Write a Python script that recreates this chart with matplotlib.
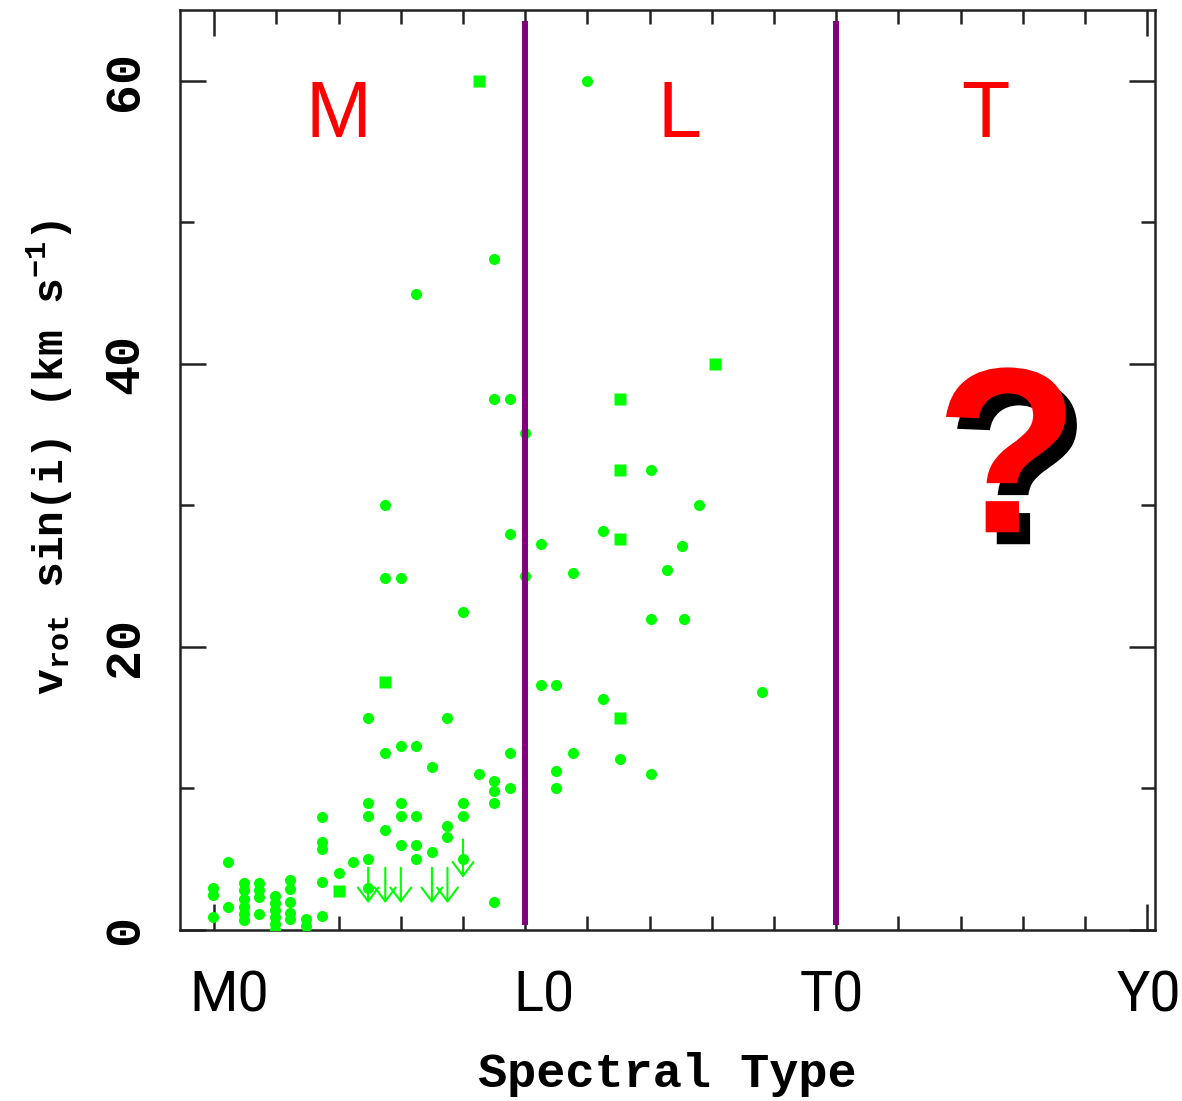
import matplotlib
matplotlib.use('Agg')
import matplotlib.pyplot as plt
import matplotlib.patheffects as pe
import matplotlib.transforms as mtransforms
from matplotlib.ticker import MultipleLocator

# spectral type: M0=0, L0=10, T0=20, Y0=30
# round markers
cx = [12.0, 9.0, 6.5, 9.0, 9.5, 15.6, 12.5, 10.5, 15.05, 11.55, 14.55,
      14.05, 15.1, 10.5, 11.0, 17.6, 12.5, 11.55, 13.05, 11.0, 14.05, 11.0,
      14.05, 10.0, 10.0, 5.5, 9.5, 5.5, 6.0, 8.0, 4.95, 7.5, 5.5, 6.0, 6.5,
      9.5, 7.0, 8.5, 9.0, 9.0, 9.0, 9.5, 3.45, 4.95, 4.95, 6.0, 6.0, 6.5,
      8.0, 8.0, 5.5, 7.5, 7.5, 3.45, 3.45, 6.0, 6.5, 6.5, 7.0, 4.95, 4.45,
      8.0, 4.0, 3.45, 4.95, 9.0, 3.45, 0.45, -0.05, -0.05, -0.05, 0.45,
      0.95, 0.95, 0.95, 0.95, 0.95, 0.95, 1.45, 1.45, 1.45, 1.45,
      1.95, 1.95, 1.95, 1.95, 1.95, 1.95, 2.45, 2.45, 2.45, 2.45, 2.45,
      2.95, 2.95]
cy = [60.0, 47.4, 44.9, 37.5, 37.5, 30.0, 28.2, 27.3, 27.1, 25.2, 25.4,
      22.0, 22.0, 17.3, 17.3, 16.8, 16.3, 12.5, 12.1, 11.2, 11.0, 10.0,
      32.5, 35.1, 25.0, 30.0, 28.0, 24.9, 24.9, 22.5, 15.0, 15.0, 12.5, 13.0, 13.0,
      12.5, 11.5, 11.0, 10.5, 9.8, 9.0, 10.0, 8.0, 9.0, 8.05, 9.0, 8.05, 8.05,
      9.0, 8.05, 7.07, 7.35, 6.6, 6.2, 5.7, 6.0, 6.0, 5.0, 5.5, 5.0, 4.8,
      5.0, 4.0, 3.4, 3.0, 2.0, 1.0, 4.8, 3.0, 2.5, 0.9, 1.6,
      3.3, 2.8, 2.2, 1.6, 1.1, 0.7, 3.3, 2.8, 2.3, 1.1,
      2.4, 1.9, 1.4, 0.9, 0.4, 0.0, 3.5, 2.9, 2.0, 1.2, 0.8,
      0.8, 0.3]

# square markers
sx = [8.5, 13.05, 16.1, 13.05, 13.05, 13.05, 5.5, 4.0]
sy = [60.0, 37.5, 40.0, 32.5, 27.6, 15.0, 17.5, 2.75]

# upper limits (arrows)
ux = [4.95, 5.5, 6.0, 7.0, 7.5, 8.0]
utop = [4.4, 4.4, 4.4, 4.4, 4.4, 6.4]
ubot = [1.9, 1.9, 1.9, 1.9, 1.9, 3.7]

boundaries = [10, 20]
classes = ['M', 'L', 'T']
class_x = [4.0, 14.95, 24.8]
type_labels = ['M0', 'L0', 'T0', 'Y0']
type_label_x = [0.48, 10.6, 19.85, 30.06]

green = '#00ff00'
mono = 'Liberation Mono'

fig = plt.figure(figsize=(11.82, 11.01), dpi=100)
ax = fig.add_axes([180/1182, 1-930/1101, 975/1182, 920/1101])

ax.plot(cx, cy, 'o', color=green, ms=8, mec='none', zorder=3)
ax.plot(sx, sy, 's', color=green, ms=9, mec='none', zorder=3)
for x, t, b in zip(ux, utop, ubot):
    ax.annotate('', xy=(x, b), xytext=(x, t),
                arrowprops=dict(arrowstyle='->,head_length=0.4,head_width=0.3',
                                color=green, lw=1.5, mutation_scale=25,
                                shrinkA=0, shrinkB=0), zorder=3)

for b in boundaries:
    ax.plot([b, b], [0.35, 64.2], color='#800080', lw=4.3, zorder=4,
            solid_capstyle='butt')

for c, x in zip(classes, class_x):
    ax.text(x, 56.0, c, color='red', fontsize=57, family='Liberation Sans',
            ha='center', va='baseline')

ax.text(25.5, 28.1, '?', color='red', fontsize=170, family='Liberation Sans',
        weight='bold', ha='center', va='baseline',
        path_effects=[pe.withSimplePatchShadow(offset=(8, -8.6),
                                               shadow_rgbFace='black', alpha=1.0)])

trans = mtransforms.blended_transform_factory(ax.transData, ax.transAxes)
for lab, x in zip(type_labels, type_label_x):
    ax.text(x, -0.089, lab, transform=trans, fontsize=40, family='Roboto',
            ha='center', va='baseline', clip_on=False)

ax.set_xlim(-1.1, 30.25)
ax.set_ylim(0, 65)
ax.set_xticks([0, 10, 20, 30])
ax.xaxis.set_minor_locator(MultipleLocator(2))
ax.set_yticks([0, 20, 40, 60])
ax.yaxis.set_minor_locator(MultipleLocator(10))
ax.tick_params(which='both', direction='in', top=True, right=True,
               width=1.8, color='#222222', labelbottom=False)
ax.tick_params(which='major', length=19)
ax.tick_params(which='minor', length=10)
ax.tick_params(axis='y', which='major', pad=23, labelrotation=90,
               labelsize=36)
for lab in ax.get_yticklabels():
    lab.set_family(mono)
    lab.set_weight('bold')
    lab.set_va('center')
for s in ax.spines.values():
    s.set_linewidth(1.8)
    s.set_color('#222222')

ax.set_xlabel('Spectral Type', family=mono, weight='bold', fontsize=35)
ax.xaxis.set_label_coords(0.5, -0.1576)
ax.xaxis.label.set_va('center')
ax.set_ylabel(r'v$_{\mathregular{rot}}$ sin(i) (km s$^{\mathregular{-1}}$)',
              family=mono, weight='bold', fontsize=31)
ax.yaxis.set_label_coords(-0.133, 0.514)
ax.yaxis.label.set_va('center')

fig.savefig('out.png', dpi=100)
